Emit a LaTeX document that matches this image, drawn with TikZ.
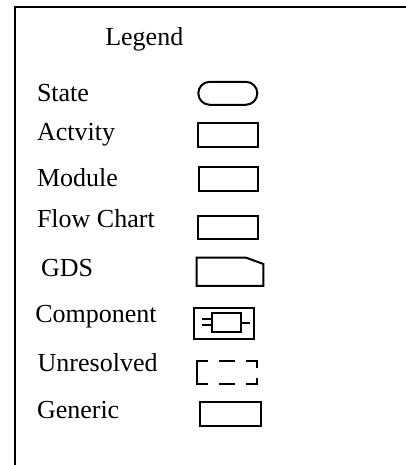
\documentclass[tikz,border=0pt]{standalone}
\usepackage{fontspec}
\setmainfont{Liberation Serif}
\usepackage{tikz}
\usetikzlibrary{positioning}

\tikzset{
    lbl/.style={anchor=base west, inner sep=0pt, font=\fontsize{26}{30}\selectfont},
    symbox/.style={draw, line width=2pt, inner sep=0pt, minimum width=60pt, minimum height=24pt},
}

\begin{document}
\begin{tikzpicture}[x=1pt, y=-1pt, line width=2pt]
    \useasboundingbox (0,0) rectangle (406,465);
    % frame, only top and left edges are on the page
    \draw (15,6.7) rectangle (430,490);

    \node[lbl] (legend) at (104.3,45.7) {Legend};

    \node[lbl] (statelbl) at (36,101.7) {State};
    \node[lbl] (actlbl) at (36,141) {Actvity};
    \node[lbl] (modlbl) at (36,186.7) {Module};
    \node[lbl] (flowlbl) at (36,227.7) {Flow Chart};
    \node[lbl] (gdslbl) at (40,276.7) {GDS};
    \node[lbl] (complbl) at (34.3,322.7) {Component};
    \node[lbl] (unreslbl) at (36.7,371.7) {Unresolved};
    \node[lbl] (genlbl) at (36,418.3) {Generic};

    \node[symbox, rounded corners=11.5pt, minimum width=59pt, minimum height=23pt] (statesym) at (227.8,93.3) {};
    \node[symbox] (actsym) at (227.8,135) {};
    \node[symbox, minimum width=59.3pt] (modsym) at (228.3,179) {};
    \node[symbox, minimum height=23pt] (flowsym) at (227.8,227.5) {};

    \node[inner sep=0pt, minimum width=64.6pt, minimum height=26.3pt] (gdssym) at (230,271.8) {};
    \draw (gdssym.north west) -- ([xshift=-17.3pt]gdssym.north east)
        -- ([yshift=-6.3pt]gdssym.north east) -- (gdssym.south east)
        -- (gdssym.south west) -- cycle;

    \node[symbox, minimum width=59.7pt, minimum height=31.3pt] (compsym) at (224.2,323.3) {};
    \node[symbox, minimum width=29.6pt, minimum height=18.4pt] (compin) at (226.5,322.5) {};
    \draw ([yshift=-2.5pt]compin.west) -- ++(-9,0);
    \draw ([yshift=3.5pt]compin.west) -- ++(-9,0);
    \draw (compin.east) -- ++(7.5,0);

    % unresolved: broken box
    \node[inner sep=0pt, minimum width=58pt, minimum height=21.3pt] (unressym) at (227.3,372.3) {};
    \draw ([xshift=11pt]unressym.north west) -- (unressym.north west)
        -- (unressym.south west) -- ([xshift=11pt]unressym.south west);
    \draw ([xshift=-8pt]unressym.north) -- ([xshift=7.7pt]unressym.north);
    \draw ([xshift=-8pt]unressym.south) -- ([xshift=7.7pt]unressym.south);
    \draw ([xshift=-11pt]unressym.north east) -- (unressym.north east) -- ([yshift=-7pt]unressym.north east);
    \draw ([yshift=6pt]unressym.south east) -- (unressym.south east) -- ([xshift=-11pt]unressym.south east);

    \node[symbox, minimum width=61pt, minimum height=24.6pt] (gensym) at (230.8,414) {};
\end{tikzpicture}
\end{document}
